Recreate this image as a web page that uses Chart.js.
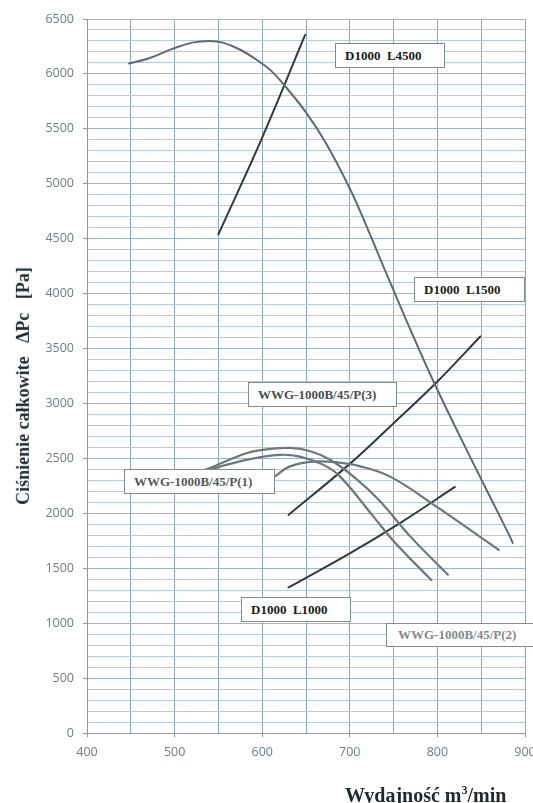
<!DOCTYPE html>
<html>
<head>
<meta charset="utf-8">
<script src="https://cdn.jsdelivr.net/npm/chart.js@4.4.1/dist/chart.umd.min.js"></script>
<style>
  html, body { margin: 0; padding: 0; background: #ffffff; }
  #wrap { position: relative; width: 533px; height: 803px; overflow: hidden; background: #fff; }
  #c { position: absolute; left: 0; top: 0; }
  .box { position: absolute; box-sizing: border-box; background: #fff; border: 1.5px solid #7f8c91;
         font-family: "Liberation Serif", "Times New Roman", serif; font-weight: bold; font-size: 13px;
         white-space: pre; display: flex; align-items: center; padding-left: 9px; }
  .ytitle { position: absolute; font-family: "Liberation Serif", "Times New Roman", serif; font-weight: bold;
            font-size: 18px; white-space: pre; color: #1e2a2e; line-height: 1;
            transform-origin: center center; }
  .xtitle { position: absolute; font-family: "Liberation Serif", "Times New Roman", serif; font-weight: bold;
            font-size: 20px; white-space: pre; color: #1e2a2e; line-height: 1; }
  .xtitle sup { font-size: 12px; vertical-align: 8px; line-height: 0; }
</style>
</head>
<body>
<div id="wrap">
  <canvas id="c" width="545" height="803"></canvas>
  <div class="box" style="left:335px;top:43px;width:110px;height:25px;color:#1a1a1a;">D1000  L4500</div>
  <div class="box" style="left:414px;top:277px;width:111px;height:25px;color:#1a1a1a;">D1000  L1500</div>
  <div class="box" style="left:248px;top:382px;width:149px;height:25px;color:#4a4f52;">WWG-1000B/45/P(3)</div>
  <div class="box" style="left:124px;top:469px;width:151px;height:25px;color:#55595c;">WWG-1000B/45/P(1)</div>
  <div class="box" style="left:241px;top:597px;width:110px;height:25px;color:#1a1a1a;">D1000  L1000</div>
  <div class="box" style="left:386px;top:623px;width:160px;height:24px;color:#85898c;padding-left:11px;">WWG-1000B/45/P(2)</div>
  <div class="ytitle" id="yt">Ciśnienie całkowite   ΔPc   [Pa]</div>
  <div class="xtitle" style="left:345px;top:785px;">Wydajność m<sup>3</sup>/min</div>
</div>
<script>
// ---- data ----
const xTickLabels = [400, 500, 600, 700, 800, 900];
const yTickLabels = [0, 500, 1000, 1500, 2000, 2500, 3000, 3500, 4000, 4500, 5000, 5500, 6000, 6500];

// large fan curve
const fanMainQ = [448, 470, 498, 520, 540, 555, 575, 597, 610, 626, 650, 673, 700, 720, 740, 770, 797, 840, 883, 886];
const fanMainP = [6095, 6140, 6230, 6285, 6300, 6285, 6220, 6110, 6030, 5890, 5650, 5367, 4957, 4597, 4217, 3656, 3175, 2470, 1785, 1730];

// WWG-1000B/45 fan curves
const wwgAQ = [515, 541, 582, 605, 632, 655, 677, 705, 734, 769, 812];
const wwgAP = [2340, 2415, 2547, 2582, 2595, 2565, 2490, 2330, 2115, 1790, 1440];
const wwgBQ = [515, 541, 582, 620, 643, 670, 689, 727, 753, 793];
const wwgBP = [2330, 2400, 2486, 2532, 2516, 2441, 2334, 1970, 1720, 1393];
const wwgCQ = [600, 614, 631, 658, 688, 711, 746, 799, 870];
const wwgCP = [2270, 2334, 2425, 2471, 2461, 2430, 2334, 2061, 1667];

// duct system curves
const sysL4500Q = [550, 600, 649];
const sysL4500P = [4540, 5420, 6355];
const sysL1500Q = [630, 700, 750, 800, 849];
const sysL1500P = [1985, 2450, 2820, 3200, 3610];
const sysL1000Q = [630, 700, 760, 820];
const sysL1000P = [1325, 1635, 1925, 2240];

function pts(q, p) { return q.map((v, i) => ({ x: v, y: p[i] })); }

const fanColor = '#5d6c72';
const wwgColor = '#6b777b';
const sysColor = '#303b40';

function ds(q, p, color, width) {
  return { data: pts(q, p), borderColor: color, borderWidth: width, pointRadius: 0,
           fill: false, tension: 0.4, borderCapStyle: 'round', borderJoinStyle: 'round' };
}

new Chart(document.getElementById('c'), {
  type: 'line',
  data: {
    datasets: [
      ds(fanMainQ, fanMainP, fanColor, 2),
      ds(wwgAQ, wwgAP, wwgColor, 2.2),
      ds(wwgBQ, wwgBP, wwgColor, 2.2),
      ds(wwgCQ, wwgCP, wwgColor, 2.2),
      ds(sysL4500Q, sysL4500P, sysColor, 2),
      ds(sysL1500Q, sysL1500P, sysColor, 2),
      ds(sysL1000Q, sysL1000P, sysColor, 2)
    ]
  },
  options: {
    responsive: false,
    animation: false,
    devicePixelRatio: 1,
    layout: { padding: { left: 0, top: 19, right: 20, bottom: 40 } },
    plugins: { legend: { display: false }, tooltip: { enabled: false } },
    scales: {
      x: {
        type: 'linear', min: 400, max: 900,
        afterFit: s => { s.height = 30; },
        afterBuildTicks: s => { const t = []; for (let v = 400; v <= 900; v += 50) t.push({ value: v }); s.ticks = t; },
        ticks: {
          autoSkip: false, maxRotation: 0, padding: 8,
          callback: v => xTickLabels.includes(v) ? String(v) : '',
          color: '#6f7d85', font: { family: 'Open Sans', size: 12.5 }
        },
        grid: {
          color: '#8fabbb', lineWidth: 1, tickLength: 4,
          tickColor: c => (c.tick && c.tick.value % 100 === 0) ? '#8a9aa2' : 'rgba(0,0,0,0)'
        },
        border: { color: '#8a9aa2', width: 1 }
      },
      y: {
        type: 'linear', min: 0, max: 6500,
        afterFit: s => { s.width = 87; },
        afterBuildTicks: s => { const t = []; for (let v = 0; v <= 6500; v += 100) t.push({ value: v }); s.ticks = t; },
        ticks: {
          autoSkip: false, padding: 9,
          callback: v => yTickLabels.includes(v) ? String(v) : '',
          color: '#6f7d85', font: { family: 'Open Sans', size: 12.5 }
        },
        grid: {
          color: c => (c.tick && c.tick.value % 500 === 0) ? '#9bb8ca' : '#b4cddc',
          lineWidth: 1, tickLength: 4,
          tickColor: c => (c.tick && c.tick.value % 500 === 0) ? '#8a9aa2' : 'rgba(0,0,0,0)'
        },
        border: { color: '#8a9aa2', width: 1 }
      }
    }
  }
});

// position rotated y-axis title (centre at x=23, y=386)
const yt = document.getElementById('yt');
const w = yt.offsetWidth, h = yt.offsetHeight;
yt.style.left = (23 - w / 2) + 'px';
yt.style.top = (386 - h / 2) + 'px';
yt.style.transform = 'rotate(-90deg)';
</script>
</body>
</html>
